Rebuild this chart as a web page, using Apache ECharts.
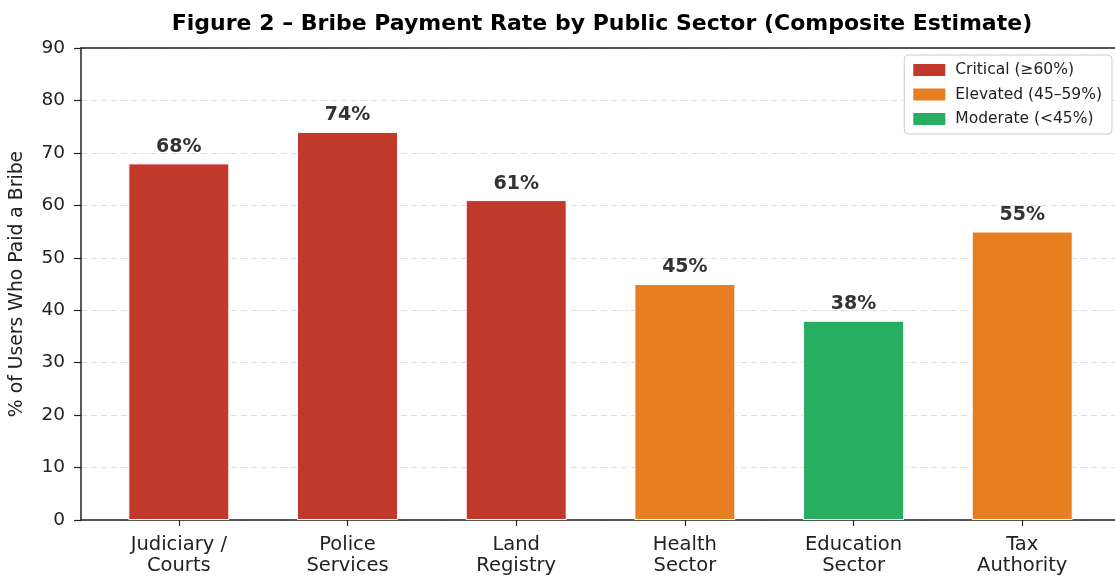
<!DOCTYPE html>
<html><head><meta charset="utf-8">
<script src="https://cdn.jsdelivr.net/npm/echarts@6/dist/echarts.min.js"></script>
<style>html,body{margin:0;padding:0;background:#fff}#c{width:1115px;height:576px}</style>
</head><body><div id="c"></div>
<script>
const categories = ["Judiciary /\nCourts", "Police\nServices", "Land\nRegistry", "Health\nSector", "Education\nSector", "Tax\nAuthority"];
const values = [68, 74, 61, 45, 38, 55];
const tiers = ["Critical (≥60%)", "Critical (≥60%)", "Critical (≥60%)", "Elevated (45–59%)", "Moderate (<45%)", "Elevated (45–59%)"];
const tierNames = ["Critical (≥60%)", "Elevated (45–59%)", "Moderate (<45%)"];
const tierColors = ["#c0392b", "#e67e22", "#27ae60"];
const yTicks = [0, 10, 20, 30, 40, 50, 60, 70, 80, 90];

const FONT = "DejaVu Sans";
const idx = categories.map((_, i) => i);
const series = tierNames.map((t, k) => ({
  name: t,
  type: 'bar',
  stack: 'all',
  barWidth: 101,
  itemStyle: { color: tierColors[k], borderColor: '#fff', borderWidth: 1 },
  label: {
    show: true, position: 'top', distance: 7,
    formatter: p => p.value[1] + '%',
    fontFamily: FONT, fontWeight: 'bold', fontSize: 19, color: '#333'
  },
  data: idx.filter(i => tiers[i] === t).map(i => [i, values[i]])
}));

const chart = echarts.init(document.getElementById('c'));
chart.setOption({
  animation: false,
  textStyle: { fontFamily: FONT },
  title: {
    text: 'Figure 2 – Bribe Payment Rate by Public Sector (Composite Estimate)',
    left: 597, top: 8, textAlign: 'center',
    textStyle: { fontFamily: FONT, fontWeight: 'bold', fontSize: 22, color: '#000' }
  },
  legend: {
    orient: 'vertical', right: 3, top: 55,
    itemWidth: 34, itemHeight: 14, itemGap: 8.5,
    data: tierNames,
    icon: 'rect',
    textStyle: { fontFamily: FONT, fontSize: 15.5, color: '#222', padding: [0, 0, 0, 4] },
    borderColor: '#ccc', borderWidth: 1, borderRadius: 4,
    padding: [7, 10, 7, 7], backgroundColor: '#fff'
  },
  grid: { left: 80, top: 48, right: 0, height: 473 },
  xAxis: [{
    type: 'value', min: -0.58, max: 5.55,
    axisLine: { show: true, onZero: false, lineStyle: { color: '#222', width: 1.5 } },
    axisTick: { show: true, customValues: idx, length: 6, lineStyle: { color: '#222', width: 1.2 } },
    axisLabel: {
      customValues: idx, margin: 14,
      formatter: v => categories[Math.round(v)],
      fontFamily: FONT, fontSize: 19.5, color: '#222', lineHeight: 21
    },
    splitLine: { show: false }
  }, {
    type: 'value', min: -0.58, max: 5.55, position: 'top',
    axisLine: { show: true, onZero: false, lineStyle: { color: '#222', width: 1.5 } },
    axisTick: { show: false }, axisLabel: { show: false }, splitLine: { show: false }
  }],
  yAxis: {
    type: 'value', min: yTicks[0], max: yTicks[yTicks.length - 1], interval: 10,
    name: '% of Users Who Paid a Bribe', nameLocation: 'middle', nameGap: 54,
    nameTextStyle: { fontFamily: FONT, fontSize: 18.8, color: '#222' },
    axisLine: { show: true, onZero: false, lineStyle: { color: '#222', width: 1.5 } },
    axisTick: { show: true, length: 7, lineStyle: { color: '#222', width: 1.2 } },
    axisLabel: { fontFamily: FONT, fontSize: 18.5, color: '#222', margin: 16 },
    splitLine: { show: true, lineStyle: { color: '#ddd', type: [6, 4], width: 1 } }
  },
  series: series
});
</script></body></html>
